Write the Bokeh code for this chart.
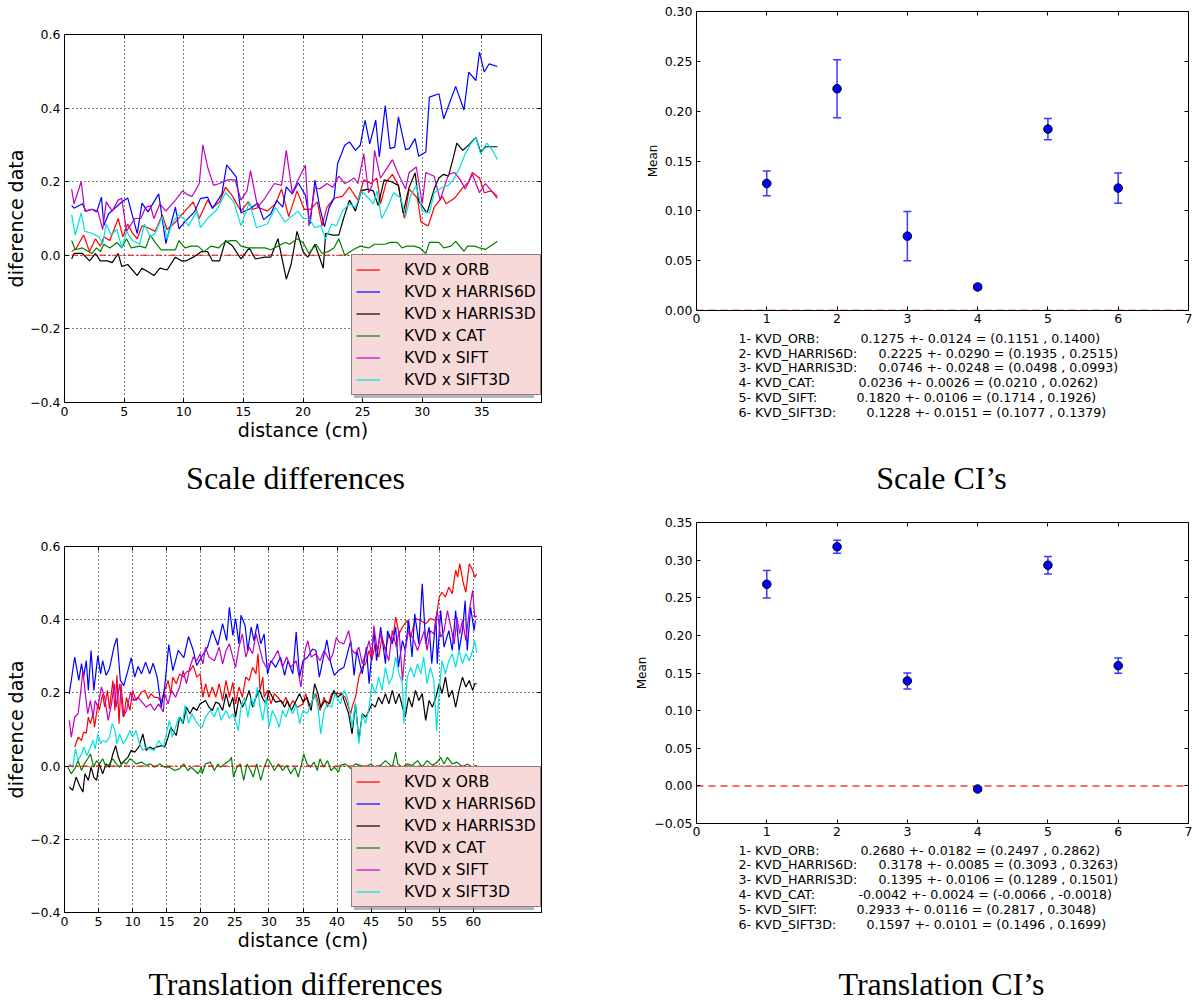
from bokeh.plotting import figure
from bokeh.layouts import row, column
from bokeh.models import (Range1d, FixedTicker, LinearAxis, ColumnDataSource,
                          Whisker, TeeHead, Span, Legend, LegendItem)
from bokeh.core.properties import value
from bokeh.embed import file_html
from bokeh.resources import INLINE

SANS = "DejaVu Sans"
SERIF = "Liberation Serif"

# ---------------------------------------------------------------- data
series_names = ["KVD x ORB", "KVD x HARRIS6D", "KVD x HARRIS3D",
                "KVD x CAT", "KVD x SIFT", "KVD x SIFT3D"]
series_colors = ["#ff0000", "#0000ff", "#000000", "#008000", "#bf00bf", "#00e0e0"]

# scale differences (distance in cm, difference)
scale_orb = [(0.6, 0.01), (1.0, 0.02), (1.6, 0.055), (2.1, 0.01), (2.6, 0.045), (3.0, 0.025),
             (3.3, 0.05), (3.8, 0.04), (4.5, 0.10), (4.9, 0.05), (5.3, 0.085), (5.7, 0.06),
             (6.1, 0.045), (6.5, 0.08), (7.0, 0.075), (7.6, 0.065), (8.2, 0.11), (8.6, 0.07),
             (9.3, 0.09), (10.1, 0.12), (10.8, 0.145), (11.3, 0.10), (12.0, 0.15), (12.4, 0.13),
             (13.0, 0.145), (13.5, 0.185), (14.0, 0.165), (14.8, 0.12), (15.4, 0.145),
             (15.8, 0.125), (16.3, 0.13), (17.0, 0.12), (17.7, 0.14), (18.2, 0.18), (18.8, 0.105),
             (19.5, 0.175), (20.1, 0.125), (20.6, 0.125), (21.2, 0.145), (21.6, 0.08), (22.0, 0.13),
             (22.6, 0.155), (23.3, 0.16), (23.9, 0.185), (24.6, 0.15), (25.1, 0.205), (25.7, 0.195),
             (26.2, 0.21), (26.5, 0.14), (27.0, 0.20), (27.5, 0.22), (28.0, 0.19), (28.5, 0.10),
             (28.9, 0.18), (29.6, 0.155), (29.9, 0.09), (30.5, 0.08), (31.0, 0.13), (31.7, 0.16),
             (32.0, 0.14), (32.7, 0.155), (33.3, 0.18), (33.9, 0.20), (34.2, 0.225), (34.8, 0.21),
             (35.2, 0.17), (35.8, 0.175), (36.3, 0.155)]
scale_harris6d = [(0.6, 0.135), (0.8, 0.128), (1.5, 0.14), (1.8, 0.12), (2.3, 0.125), (2.7, 0.118),
                  (3.1, 0.158), (3.3, 0.081), (3.7, 0.113), (4.8, 0.145), (5.3, 0.156), (6.1, 0.059),
                  (6.5, 0.142), (7.0, 0.118), (7.9, 0.167), (8.5, 0.032), (9.3, 0.131), (9.6, 0.072),
                  (10.2, 0.095), (10.9, 0.118), (11.4, 0.154), (12.0, 0.158), (12.4, 0.127),
                  (13.2, 0.167), (13.6, 0.246), (14.4, 0.213), (14.8, 0.115), (15.6, 0.127),
                  (16.2, 0.142), (16.7, 0.097), (17.3, 0.113), (17.8, 0.149), (18.3, 0.131),
                  (18.6, 0.186), (19.1, 0.167), (19.6, 0.197), (20.2, 0.163), (20.6, 0.086),
                  (21.0, 0.204), (21.4, 0.131), (21.8, 0.077), (22.2, 0.131), (22.6, 0.154),
                  (22.9, 0.249), (23.5, 0.299), (23.9, 0.308), (24.4, 0.285), (24.8, 0.299),
                  (25.2, 0.367), (25.6, 0.303), (26.1, 0.367), (26.4, 0.267), (26.9, 0.407),
                  (27.3, 0.29), (27.7, 0.294), (28.0, 0.376), (28.6, 0.287), (28.9, 0.29),
                  (29.4, 0.317), (29.7, 0.269), (30.3, 0.281), (30.6, 0.43), (31.4, 0.439),
                  (31.8, 0.371), (32.8, 0.459), (33.5, 0.395), (33.9, 0.498), (34.5, 0.475),
                  (34.8, 0.552), (35.2, 0.498), (35.6, 0.52), (36.3, 0.513)]
scale_harris3d = [(0.6, -0.01), (0.8, 0.005), (1.5, 0.005), (2.1, -0.015), (2.6, 0.005), (3.0, -0.015),
                  (3.6, -0.015), (4.0, -0.02), (4.5, 0.005), (4.8, -0.03), (5.3, -0.025), (6.1, -0.055),
                  (6.5, -0.035), (7.0, -0.045), (7.5, -0.055), (8.0, -0.035), (8.6, -0.04),
                  (9.3, -0.005), (9.8, -0.015), (10.2, -0.015), (10.8, -0.005), (11.5, 0.01),
                  (12.0, 0.01), (12.4, -0.015), (13.0, -0.015), (13.5, 0.04), (14.1, 0.025),
                  (14.8, -0.01), (15.5, 0.02), (16.0, -0.01), (16.8, -0.005), (17.3, -0.005),
                  (17.9, 0.045), (18.6, -0.065), (19.0, -0.025), (19.5, 0.065), (20.0, 0.01),
                  (20.4, -0.005), (21.0, 0.03), (21.7, -0.035), (21.9, 0.06), (22.5, 0.055),
                  (23.0, 0.055), (23.4, 0.10), (23.9, 0.15), (24.4, 0.12), (24.9, 0.175),
                  (25.4, 0.18), (25.9, 0.175), (26.3, 0.135), (26.8, 0.205), (27.4, 0.20),
                  (28.0, 0.19), (28.4, 0.115), (28.9, 0.185), (29.4, 0.224), (29.7, 0.147),
                  (30.4, 0.115), (31.0, 0.18), (31.4, 0.21), (31.8, 0.22), (32.2, 0.215),
                  (32.6, 0.265), (32.9, 0.305), (33.4, 0.285), (33.9, 0.30), (34.5, 0.32),
                  (34.9, 0.28), (35.3, 0.295), (36.3, 0.295)]
scale_cat = [(0.6, 0.04), (0.9, 0.015), (1.5, 0.02), (2.3, 0.005), (2.7, 0.02), (3.0, 0.01),
             (3.3, 0.03), (3.8, 0.02), (4.4, 0.035), (4.8, 0.02), (5.2, 0.045), (5.6, 0.02),
             (6.3, 0.025), (6.8, 0.02), (7.2, 0.055), (7.6, 0.035), (8.1, 0.015), (8.6, 0.015),
             (9.3, 0.015), (9.6, 0.04), (10.1, 0.02), (10.6, 0.025), (11.2, 0.025), (11.7, 0.01),
             (12.3, 0.025), (12.9, 0.02), (13.4, 0.035), (13.9, 0.04), (14.4, 0.04), (14.8, 0.025),
             (15.4, 0.02), (16.2, 0.02), (16.8, 0.02), (17.3, 0.015), (17.9, 0.025), (18.5, 0.035),
             (18.9, 0.03), (19.5, 0.045), (20.0, 0.035), (20.5, 0.005), (21.1, 0.03), (21.6, 0.005),
             (22.1, 0.01), (22.6, 0.02), (23.0, 0.045), (23.5, 0.0), (24.2, 0.015), (24.8, 0.025),
             (25.5, 0.02), (26.0, 0.03), (26.5, 0.03), (26.9, 0.03), (27.3, 0.035), (27.9, 0.035),
             (28.3, 0.02), (28.7, 0.025), (29.3, 0.025), (29.8, 0.02), (30.3, 0.005), (30.6, 0.035),
             (31.4, 0.035), (31.8, 0.02), (32.4, 0.025), (32.8, 0.038), (33.5, 0.011), (33.8, 0.025),
             (34.4, 0.025), (34.8, 0.02), (35.3, 0.016), (36.3, 0.038)]
scale_sift = [(0.6, 0.18), (0.8, 0.14), (1.4, 0.20), (1.7, 0.12), (2.3, 0.125), (2.8, 0.12),
              (3.2, 0.07), (3.5, 0.145), (4.0, 0.12), (4.5, 0.15), (4.8, 0.155), (5.2, 0.065),
              (5.9, 0.10), (6.4, 0.10), (6.8, 0.13), (7.2, 0.135), (7.5, 0.10), (8.0, 0.14),
              (8.5, 0.12), (9.3, 0.15), (9.9, 0.175), (10.3, 0.165), (10.7, 0.16), (11.3, 0.195),
              (11.6, 0.30), (12.0, 0.24), (12.5, 0.19), (13.0, 0.195), (13.7, 0.205), (14.3, 0.205),
              (14.8, 0.15), (15.3, 0.175), (15.6, 0.23), (16.2, 0.13), (16.8, 0.155), (17.6, 0.195),
              (18.2, 0.19), (18.6, 0.285), (19.1, 0.17), (19.6, 0.205), (20.2, 0.245), (20.5, 0.08),
              (21.0, 0.185), (21.4, 0.18), (22.0, 0.195), (22.5, 0.185), (23.0, 0.215), (23.5, 0.195),
              (23.8, 0.20), (24.3, 0.21), (24.6, 0.195), (25.1, 0.275), (25.5, 0.17), (25.8, 0.19),
              (26.0, 0.285), (26.5, 0.21), (27.0, 0.235), (27.5, 0.26), (28.0, 0.22), (28.6, 0.18),
              (28.9, 0.225), (29.5, 0.24), (30.0, 0.14), (30.3, 0.225), (31.0, 0.215), (31.5, 0.15),
              (32.2, 0.22), (32.7, 0.225), (33.2, 0.205), (33.6, 0.18), (34.2, 0.22), (34.8, 0.17),
              (35.3, 0.195), (35.8, 0.175), (36.3, 0.16)]
scale_sift3d = [(0.6, 0.11), (0.9, 0.055), (1.4, 0.115), (1.7, 0.065), (2.3, 0.06), (2.9, 0.05),
                (3.2, 0.03), (3.5, 0.085), (3.9, 0.055), (4.4, 0.07), (4.8, 0.02), (5.2, 0.065),
                (5.7, 0.04), (6.3, 0.03), (6.7, 0.085), (7.2, 0.05), (7.6, 0.06), (8.2, 0.105),
                (8.6, 0.045), (9.0, 0.085), (9.5, 0.11), (10.0, 0.10), (10.4, 0.08), (11.1, 0.12),
                (11.4, 0.075), (12.0, 0.10), (12.8, 0.125), (13.5, 0.17), (14.2, 0.145), (14.8, 0.08),
                (15.5, 0.145), (16.1, 0.075), (17.0, 0.085), (17.7, 0.13), (18.5, 0.09), (19.0, 0.105),
                (19.6, 0.12), (20.0, 0.10), (20.5, 0.10), (21.0, 0.075), (21.5, 0.08), (21.9, 0.045),
                (22.4, 0.085), (22.8, 0.08), (23.3, 0.12), (23.9, 0.14), (24.4, 0.13), (24.9, 0.175),
                (25.5, 0.155), (25.9, 0.14), (26.2, 0.175), (26.6, 0.10), (27.0, 0.125), (27.6, 0.17),
                (28.2, 0.155), (28.6, 0.105), (29.0, 0.16), (29.5, 0.19), (30.0, 0.12), (30.6, 0.115),
                (31.0, 0.17), (31.7, 0.185), (32.2, 0.19), (32.6, 0.205), (33.1, 0.235), (33.6, 0.275),
                (34.0, 0.30), (34.5, 0.32), (34.9, 0.275), (35.4, 0.305), (35.9, 0.285), (36.3, 0.26)]

# translation differences (distance in cm, difference)
trans_orb = [(1.5, 0.052), (2.0, 0.079), (2.5, 0.07), (2.8, 0.093), (3.2, 0.09), (3.5, 0.134),
             (3.8, 0.116), (4.2, 0.143), (4.4, 0.106), (4.9, 0.17), (5.1, 0.152), (5.6, 0.197),
             (5.9, 0.161), (6.3, 0.207), (6.6, 0.156), (7.1, 0.234), (7.4, 0.152), (7.7, 0.248),
             (8.0, 0.116), (8.3, 0.225), (8.7, 0.134), (9.1, 0.188), (9.6, 0.152), (10.0, 0.207),
             (10.5, 0.179), (11.3, 0.202), (11.8, 0.207), (12.3, 0.184), (12.7, 0.198), (13.2, 0.188),
             (13.7, 0.188), (14.2, 0.175), (14.7, 0.207), (15.2, 0.234), (15.6, 0.198), (15.9, 0.243),
             (16.4, 0.225), (16.9, 0.252), (17.4, 0.243), (17.9, 0.257), (18.4, 0.261), (18.9, 0.275),
             (19.4, 0.243), (19.9, 0.252), (20.3, 0.188), (20.7, 0.225), (21.2, 0.188), (21.7, 0.216),
             (22.2, 0.188), (22.7, 0.225), (23.2, 0.179), (23.7, 0.234), (24.2, 0.188), (24.7, 0.229),
             (25.1, 0.17), (25.6, 0.216), (26.1, 0.188), (26.6, 0.243), (27.1, 0.234), (27.6, 0.27),
             (28.1, 0.252), (28.4, 0.307), (28.7, 0.207), (29.1, 0.243), (29.3, 0.188), (29.8, 0.207),
             (30.3, 0.17), (30.8, 0.198), (31.5, 0.184), (32.0, 0.17), (32.5, 0.188), (33.0, 0.161),
             (33.5, 0.179), (34.2, 0.161), (35.0, 0.17), (35.4, 0.198), (35.9, 0.161), (36.4, 0.179),
             (36.9, 0.198), (37.5, 0.152), (38.1, 0.188), (38.6, 0.161), (39.2, 0.198), (39.9, 0.198),
             (40.5, 0.198), (41.2, 0.188), (42.0, 0.143), (42.2, 0.161), (42.7, 0.188), (43.2, 0.243),
             (43.7, 0.27), (44.2, 0.28), (44.7, 0.316), (45.1, 0.288), (45.6, 0.334), (46.1, 0.298),
             (46.6, 0.352), (47.1, 0.316), (47.6, 0.361), (48.1, 0.334), (48.6, 0.407), (49.1, 0.361),
             (49.6, 0.38), (50.3, 0.398), (50.8, 0.352), (51.5, 0.403), (52.3, 0.398), (53.0, 0.389),
             (53.7, 0.403), (54.5, 0.398), (55.0, 0.462), (55.4, 0.475), (55.9, 0.462), (56.4, 0.489),
             (56.9, 0.471), (57.4, 0.535), (57.7, 0.516), (58.0, 0.553), (58.5, 0.502), (58.9, 0.475),
             (59.4, 0.553), (59.9, 0.535), (60.2, 0.516), (60.5, 0.525)]
trans_harris6d = [(0.7, 0.197), (1.5, 0.298), (2.1, 0.234), (2.5, 0.28), (2.8, 0.243), (3.2, 0.288),
                  (3.5, 0.207), (3.9, 0.316), (4.3, 0.207), (4.9, 0.302), (5.3, 0.252), (5.6, 0.288),
                  (6.1, 0.248), (6.6, 0.266), (7.3, 0.329), (7.7, 0.35), (8.2, 0.234), (8.7, 0.22),
                  (9.3, 0.261), (9.8, 0.296), (10.3, 0.243), (10.8, 0.272), (11.3, 0.252), (11.9, 0.284),
                  (12.5, 0.252), (13.0, 0.281), (13.6, 0.243), (14.2, 0.161), (14.7, 0.216), (15.3, 0.332),
                  (15.9, 0.261), (16.7, 0.316), (17.5, 0.296), (18.2, 0.354), (18.9, 0.316), (19.4, 0.275),
                  (20.1, 0.298), (21.0, 0.325), (21.7, 0.371), (22.5, 0.33), (23.2, 0.389), (23.8, 0.343),
                  (24.2, 0.434), (24.7, 0.357), (25.1, 0.403), (25.6, 0.334), (25.9, 0.412), (26.5, 0.384),
                  (26.9, 0.316), (27.4, 0.38), (27.8, 0.343), (28.3, 0.389), (28.8, 0.334), (29.3, 0.361),
                  (29.8, 0.252), (30.3, 0.288), (31.0, 0.27), (31.7, 0.298), (32.3, 0.248), (32.8, 0.288),
                  (33.5, 0.252), (34.0, 0.366), (34.5, 0.243), (35.0, 0.288), (35.7, 0.298), (36.4, 0.32),
                  (36.9, 0.316), (37.4, 0.243), (38.0, 0.298), (38.5, 0.345), (39.1, 0.279), (39.6, 0.248),
                  (40.2, 0.261), (41.0, 0.27), (42.0, 0.343), (42.5, 0.248), (42.9, 0.316), (43.7, 0.252),
                  (44.3, 0.325), (44.7, 0.225), (45.4, 0.37), (45.8, 0.288), (46.4, 0.38), (47.1, 0.28),
                  (47.4, 0.37), (48.1, 0.334), (48.6, 0.38), (49.0, 0.27), (49.6, 0.343), (50.0, 0.316),
                  (50.5, 0.398), (51.0, 0.298), (51.4, 0.416), (52.0, 0.334), (52.5, 0.498), (53.0, 0.334),
                  (53.5, 0.38), (53.9, 0.28), (54.5, 0.407), (54.7, 0.28), (55.2, 0.425), (55.7, 0.325),
                  (56.4, 0.37), (56.9, 0.316), (57.4, 0.425), (57.9, 0.316), (58.4, 0.37), (58.8, 0.452),
                  (59.1, 0.316), (59.6, 0.434), (60.1, 0.37), (60.3, 0.398)]
trans_harris3d = [(0.7, -0.057), (1.2, -0.066), (1.7, -0.03), (2.2, -0.053), (2.7, -0.071), (3.0, -0.021),
                  (3.5, -0.039), (3.9, -0.003), (4.3, -0.03), (4.7, -0.039), (5.1, 0.006), (5.6, -0.021),
                  (6.1, 0.006), (6.6, -0.003), (7.1, 0.033), (7.5, 0.056), (7.9, 0.024), (8.3, 0.006),
                  (8.8, 0.015), (9.3, 0.024), (9.8, 0.043), (10.3, 0.038), (10.9, 0.052), (11.5, 0.088),
                  (12.0, 0.043), (12.5, 0.052), (13.0, 0.047), (13.5, 0.052), (14.2, 0.056), (14.7, 0.052),
                  (15.2, 0.079), (15.6, 0.106), (15.9, 0.097), (16.4, 0.084), (16.9, 0.134), (17.4, 0.116),
                  (17.9, 0.161), (18.4, 0.143), (18.9, 0.161), (19.4, 0.152), (19.9, 0.17), (20.7, 0.179),
                  (21.2, 0.161), (21.7, 0.152), (22.2, 0.175), (22.7, 0.17), (23.2, 0.152), (23.7, 0.198),
                  (24.2, 0.161), (24.7, 0.188), (25.1, 0.134), (25.6, 0.188), (26.1, 0.161), (26.6, 0.179),
                  (27.1, 0.207), (27.6, 0.161), (28.1, 0.188), (28.6, 0.207), (29.1, 0.184), (29.6, 0.17),
                  (30.0, 0.207), (30.5, 0.188), (31.0, 0.175), (31.8, 0.179), (32.3, 0.161), (32.7, 0.179),
                  (33.3, 0.152), (34.0, 0.179), (34.5, 0.198), (35.0, 0.175), (35.6, 0.188), (36.2, 0.152),
                  (36.7, 0.225), (37.2, 0.198), (37.6, 0.161), (38.2, 0.179), (38.9, 0.17), (39.5, 0.207),
                  (40.1, 0.188), (40.7, 0.198), (41.2, 0.17), (41.7, 0.143), (42.2, 0.088), (42.7, 0.17),
                  (43.2, 0.07), (43.7, 0.143), (44.2, 0.134), (44.7, 0.152), (45.1, 0.17), (45.6, 0.161),
                  (46.1, 0.188), (46.6, 0.17), (47.1, 0.198), (47.6, 0.17), (48.1, 0.207), (48.6, 0.17),
                  (49.1, 0.198), (49.6, 0.161), (50.0, 0.134), (50.5, 0.188), (51.0, 0.161), (51.5, 0.207),
                  (52.0, 0.179), (52.5, 0.198), (53.0, 0.125), (53.5, 0.179), (54.0, 0.161), (54.5, 0.188),
                  (55.0, 0.225), (55.4, 0.198), (55.9, 0.243), (56.4, 0.188), (56.9, 0.207), (57.4, 0.161),
                  (57.9, 0.207), (58.4, 0.243), (58.9, 0.216), (59.4, 0.234), (59.9, 0.207), (60.2, 0.225),
                  (60.5, 0.225)]
trans_cat = [(0.5, -0.003), (1.0, -0.021), (1.5, -0.007), (2.0, 0.015), (2.5, -0.012), (2.9, 0.006),
             (3.4, 0.02), (3.8, 0.033), (4.3, -0.003), (4.7, 0.015), (5.1, 0.006), (5.6, 0.02),
             (6.1, -0.003), (6.6, 0.006), (7.1, 0.02), (7.6, 0.006), (8.1, -0.003), (8.6, 0.011),
             (9.1, 0.006), (9.6, 0.02), (10.0, 0.015), (10.5, 0.006), (11.3, 0.011), (12.0, 0.002),
             (12.6, 0.006), (13.2, -0.003), (14.0, 0.006), (14.7, -0.003), (15.4, -0.003), (16.2, -0.012),
             (16.9, -0.007), (17.5, 0.006), (18.1, -0.012), (18.6, -0.003), (19.1, -0.012), (19.6, -0.021),
             (20.1, -0.003), (20.2, -0.021), (20.7, 0.006), (21.4, 0.011), (22.0, -0.012), (22.5, 0.006),
             (22.9, -0.003), (23.5, 0.006), (24.2, 0.015), (24.5, 0.024), (24.8, -0.03), (25.3, -0.003),
             (25.8, 0.006), (26.3, -0.039), (26.8, 0.006), (27.3, -0.012), (27.7, -0.03), (28.2, 0.006),
             (28.8, -0.039), (29.3, -0.003), (29.8, 0.02), (30.3, 0.006), (30.8, -0.012), (31.4, 0.006),
             (32.0, -0.012), (32.6, 0.002), (33.2, -0.021), (33.8, -0.003), (34.3, -0.03), (34.8, 0.006),
             (35.1, 0.033), (35.6, 0.006), (36.1, -0.003), (36.6, 0.011), (37.1, -0.012), (37.5, 0.02),
             (38.0, -0.003), (38.6, 0.015), (39.1, -0.012), (39.6, -0.003), (40.2, -0.016), (40.5, 0.002),
             (41.2, 0.006), (42.0, -0.007), (42.7, 0.006), (43.4, 0.002), (44.2, -0.003), (44.9, 0.006),
             (45.6, -0.003), (46.4, 0.002), (47.1, 0.015), (47.6, 0.006), (48.1, -0.003), (48.6, 0.038),
             (48.9, 0.006), (49.6, -0.003), (50.3, 0.006), (51.0, 0.002), (51.8, 0.015), (52.5, -0.003),
             (53.2, 0.015), (54.0, 0.002), (54.7, 0.011), (55.2, 0.024), (55.7, 0.006), (56.2, 0.024),
             (56.9, 0.006), (57.6, 0.011), (58.4, -0.003), (59.1, 0.006), (59.9, -0.003), (60.5, 0.002)]
trans_sift = [(0.7, 0.125), (1.0, 0.079), (1.5, 0.134), (2.0, 0.143), (2.4, 0.207), (2.7, 0.261),
              (3.0, 0.207), (3.4, 0.143), (3.8, 0.179), (4.2, 0.134), (4.5, 0.179), (4.9, 0.161),
              (5.4, 0.216), (5.9, 0.188), (6.4, 0.125), (6.9, 0.17), (7.3, 0.225), (7.6, 0.161),
              (8.1, 0.225), (8.6, 0.134), (9.1, 0.152), (9.7, 0.202), (10.2, 0.179), (10.8, 0.188),
              (11.4, 0.175), (12.0, 0.161), (12.6, 0.17), (13.2, 0.152), (13.8, 0.17), (14.5, 0.148),
              (14.7, 0.198), (15.2, 0.17), (15.7, 0.207), (16.3, 0.188), (16.9, 0.216), (17.4, 0.261),
              (17.9, 0.225), (18.4, 0.27), (18.9, 0.298), (19.4, 0.288), (19.9, 0.307), (20.3, 0.279),
              (20.7, 0.325), (21.2, 0.298), (22.0, 0.288), (22.7, 0.325), (23.2, 0.279), (23.7, 0.316),
              (24.2, 0.334), (24.7, 0.298), (25.1, 0.27), (25.6, 0.325), (26.1, 0.361), (26.6, 0.298),
              (27.1, 0.325), (27.6, 0.307), (28.1, 0.361), (28.6, 0.325), (29.1, 0.288), (29.6, 0.27),
              (30.0, 0.275), (30.8, 0.298), (31.3, 0.316), (32.0, 0.27), (32.6, 0.298), (33.2, 0.27),
              (34.0, 0.288), (34.7, 0.216), (35.3, 0.316), (35.7, 0.343), (36.2, 0.298), (36.9, 0.307),
              (37.5, 0.288), (38.1, 0.316), (38.9, 0.288), (39.4, 0.307), (39.9, 0.352), (40.3, 0.339),
              (41.0, 0.334), (41.7, 0.37), (42.2, 0.316), (42.7, 0.307), (43.2, 0.325), (43.7, 0.28),
              (44.2, 0.307), (44.7, 0.343), (45.1, 0.298), (45.4, 0.384), (45.9, 0.316), (46.4, 0.361),
              (47.1, 0.316), (47.6, 0.288), (48.1, 0.37), (48.7, 0.325), (49.1, 0.37), (49.6, 0.234),
              (50.0, 0.316), (50.5, 0.37), (51.3, 0.343), (51.8, 0.316), (52.3, 0.343), (52.8, 0.37),
              (53.2, 0.316), (53.7, 0.37), (54.2, 0.361), (54.7, 0.425), (55.2, 0.352), (55.7, 0.37),
              (56.2, 0.425), (56.7, 0.38), (57.2, 0.334), (57.6, 0.407), (58.0, 0.361), (58.4, 0.398),
              (58.9, 0.343), (59.4, 0.425), (59.9, 0.48), (60.2, 0.407), (60.5, 0.41)]
trans_sift3d = [(0.7, 0.006), (1.2, -0.003), (1.6, 0.047), (2.0, 0.015), (2.5, 0.033), (2.8, 0.052),
                (3.3, 0.029), (3.8, 0.052), (4.2, 0.07), (4.5, 0.047), (4.9, 0.088), (5.3, 0.061),
                (5.6, 0.07), (6.1, 0.066), (6.6, 0.079), (7.0, 0.116), (7.4, 0.097), (7.7, 0.061),
                (8.1, 0.088), (8.6, 0.061), (9.1, 0.075), (9.6, 0.097), (10.0, 0.079), (10.5, 0.097),
                (11.0, 0.061), (11.5, 0.043), (12.0, 0.052), (12.6, 0.047), (13.2, 0.043), (13.8, 0.07),
                (14.5, 0.052), (15.0, 0.093), (15.4, 0.125), (15.8, 0.079), (16.3, 0.106), (16.8, 0.134),
                (17.3, 0.116), (17.7, 0.166), (18.2, 0.116), (18.7, 0.143), (19.2, 0.125), (19.7, 0.111),
                (20.2, 0.106), (20.7, 0.134), (21.4, 0.152), (22.0, 0.134), (22.5, 0.161), (23.0, 0.125),
                (23.7, 0.152), (24.2, 0.13), (24.7, 0.143), (25.1, 0.125), (25.5, 0.097), (25.9, 0.161),
                (26.4, 0.188), (26.9, 0.134), (27.4, 0.188), (27.8, 0.161), (28.3, 0.216), (28.7, 0.161),
                (29.1, 0.125), (29.6, 0.188), (30.0, 0.106), (30.5, 0.152), (31.0, 0.134), (31.5, 0.106),
                (32.0, 0.152), (32.5, 0.134), (33.0, 0.161), (33.5, 0.143), (34.0, 0.17), (34.5, 0.116),
                (35.0, 0.152), (35.6, 0.143), (36.2, 0.17), (36.7, 0.198), (37.2, 0.161), (37.6, 0.088),
                (38.1, 0.152), (38.6, 0.17), (39.2, 0.161), (39.7, 0.198), (40.2, 0.179), (40.5, 0.17),
                (41.0, 0.207), (41.5, 0.188), (42.0, 0.134), (42.2, 0.106), (42.7, 0.17), (43.2, 0.061),
                (43.7, 0.143), (44.2, 0.116), (44.7, 0.161), (45.1, 0.225), (45.6, 0.198), (46.1, 0.243),
                (46.6, 0.207), (47.1, 0.27), (47.6, 0.225), (48.1, 0.243), (48.6, 0.298), (49.1, 0.252),
                (49.6, 0.225), (49.8, 0.116), (50.3, 0.243), (50.8, 0.27), (51.3, 0.243), (51.8, 0.28),
                (52.3, 0.252), (52.7, 0.298), (53.2, 0.225), (53.7, 0.27), (54.2, 0.234), (54.6, 0.097),
                (55.0, 0.207), (55.4, 0.288), (55.9, 0.252), (56.4, 0.288), (56.9, 0.307), (57.4, 0.27),
                (57.9, 0.316), (58.4, 0.28), (58.9, 0.307), (59.4, 0.288), (59.9, 0.316), (60.2, 0.343),
                (60.5, 0.31)]

scale_series = [scale_orb, scale_harris6d, scale_harris3d, scale_cat, scale_sift, scale_sift3d]
trans_series = [trans_orb, trans_harris6d, trans_harris3d, trans_cat, trans_sift, trans_sift3d]

diff_yticks = [-0.4, -0.2, 0.0, 0.2, 0.4, 0.6]
diff_ytick_labels = ["\u22120.4", "\u22120.2", "0.0", "0.2", "0.4", "0.6"]
scale_xticks = [0, 5, 10, 15, 20, 25, 30, 35]
trans_xticks = [0, 5, 10, 15, 20, 25, 30, 35, 40, 45, 50, 55, 60]

# confidence intervals of the mean difference per detector pair
ci_index = [1, 2, 3, 4, 5, 6]
ci_names = ["KVD_ORB", "KVD_HARRIS6D", "KVD_HARRIS3D", "KVD_CAT", "KVD_SIFT", "KVD_SIFT3D"]
scale_means = [0.1275, 0.2225, 0.0746, 0.0236, 0.1820, 0.1228]
scale_errs = [0.0124, 0.0290, 0.0248, 0.0026, 0.0106, 0.0151]
scale_lo = [0.1151, 0.1935, 0.0498, 0.0210, 0.1714, 0.1077]
scale_hi = [0.1400, 0.2515, 0.0993, 0.0262, 0.1926, 0.1379]
trans_means = [0.2680, 0.3178, 0.1395, -0.0042, 0.2933, 0.1597]
trans_errs = [0.0182, 0.0085, 0.0106, 0.0024, 0.0116, 0.0101]
trans_lo = [0.2497, 0.3093, 0.1289, -0.0066, 0.2817, 0.1496]
trans_hi = [0.2862, 0.3263, 0.1501, -0.0018, 0.3048, 0.1699]

ci_xticks = [0, 1, 2, 3, 4, 5, 6, 7]
scale_ci_yticks = [0.00, 0.05, 0.10, 0.15, 0.20, 0.25, 0.30]
scale_ci_ytick_labels = ["0.00", "0.05", "0.10", "0.15", "0.20", "0.25", "0.30"]
trans_ci_yticks = [-0.05, 0.00, 0.05, 0.10, 0.15, 0.20, 0.25, 0.30, 0.35]
trans_ci_ytick_labels = ["\u22120.05", "0.00", "0.05", "0.10", "0.15", "0.20", "0.25", "0.30", "0.35"]

captions = ["Scale differences", "Scale CI\u2019s", "Translation differences", "Translation CI\u2019s"]

# ------------------------------------------------------------ layout
LEFT_W = 600
RIGHT_W = 597
VALUE_COL = [122, 140, 140, 120, 118, 128]   # px offset of the value column per note line


def style_axis(ax, size="12.5px"):
    ax.major_label_text_font = SANS
    ax.major_label_text_font_size = size
    ax.major_label_text_color = "black"
    ax.major_tick_in = 4
    ax.major_tick_out = 0
    ax.major_tick_line_color = "black"
    ax.minor_tick_line_color = None
    ax.axis_line_color = "black"
    ax.major_label_standoff = 4
    ax.axis_label_text_font = SANS
    ax.axis_label_text_font_style = "normal"
    ax.axis_label_text_color = "black"


def box_ticks(p, xticks, yticks):
    for ticks, side in ((xticks, "above"), (yticks, "right")):
        ax = LinearAxis(ticker=FixedTicker(ticks=ticks))
        ax.major_tick_in = 4
        ax.major_tick_out = 0
        ax.minor_tick_line_color = None
        ax.axis_line_color = None
        ax.major_label_text_font_size = "0px"
        ax.major_label_text_color = None
        ax.major_label_standoff = 0
        p.add_layout(ax, side)


def legend_props(lg):
    lg.label_text_font = SANS
    lg.label_text_font_size = "15.5px"
    lg.glyph_width = 24
    lg.glyph_height = 21
    lg.label_height = 21
    lg.label_width = 132
    lg.label_standoff = 24
    lg.spacing = 1
    lg.padding = 4
    lg.margin = 0


def diff_plot(series, x_end, xticks, frame_h, top, bottom, legend_loc):
    p = figure(frame_width=477, frame_height=frame_h, frame_align=False,
               min_border_left=64, min_border_right=LEFT_W - 64 - 477,
               min_border_top=top, min_border_bottom=bottom,
               x_range=Range1d(0, x_end), y_range=Range1d(-0.4, 0.6),
               x_axis_label="distance (cm)", y_axis_label="diference data",
               output_backend="svg", toolbar_location=None)
    p.outline_line_color = "black"
    p.outline_line_alpha = 1
    p.background_fill_color = "white"
    p.border_fill_color = "white"
    p.xaxis.ticker = FixedTicker(ticks=xticks)
    p.yaxis.ticker = FixedTicker(ticks=diff_yticks)
    p.yaxis.major_label_overrides = dict(zip(diff_yticks, diff_ytick_labels))
    for ax in (p.xaxis[0], p.yaxis[0]):
        style_axis(ax)
        ax.axis_label_text_font_size = "19px"
        ax.axis_label_standoff = 0
    p.xgrid.ticker = FixedTicker(ticks=xticks)
    p.ygrid.ticker = FixedTicker(ticks=diff_yticks)
    p.grid.grid_line_color = "black"
    p.grid.grid_line_dash = "1 3"
    p.grid.grid_line_width = 1
    box_ticks(p, xticks, diff_yticks)

    renderers = []
    for pts, color in zip(series, series_colors):
        xs = [a for a, _ in pts]
        ys = [b for _, b in pts]
        renderers.append(p.line(xs, ys, line_color=color, line_width=1.2))

    x0 = min(s[0][0] for s in series)
    x1 = max(s[-1][0] for s in series)
    p.line([x0, x1], [0, 0], line_color="#ff0000", line_alpha=0.7,
           line_width=1.6, line_dash="6 3 2 3")

    # drop shadow behind the legend box
    ghost = p.line([], [], line_alpha=0)
    shadow = Legend(items=[LegendItem(label="", renderers=[ghost]) for _ in series_names],
                    location=(legend_loc[0] + 3, legend_loc[1] - 3))
    legend_props(shadow)
    shadow.background_fill_color = "#7a7a7a"
    shadow.background_fill_alpha = 0.55
    shadow.border_line_color = None
    main = Legend(items=[LegendItem(label=n, renderers=[r]) for n, r in zip(series_names, renderers)],
                  location=legend_loc)
    legend_props(main)
    main.background_fill_color = "#f8d9d9"
    main.background_fill_alpha = 1
    main.border_line_color = "#222222"
    main.border_line_width = 1
    main.label_text_color = "black"
    p.add_layout(shadow)
    p.add_layout(main)
    return p


def ci_plot(means, lo, hi, y0, y1, yticks, ylabels, frame_h, top, bottom):
    p = figure(frame_width=492, frame_height=frame_h, frame_align=False,
               x_range=Range1d(0, 7), y_range=Range1d(y0, y1),
               y_axis_label="Mean", output_backend="svg", toolbar_location=None,
               min_border_left=96, min_border_right=RIGHT_W - 96 - 492,
               min_border_top=top, min_border_bottom=bottom)
    p.outline_line_color = "black"
    p.grid.visible = False
    p.xaxis.ticker = FixedTicker(ticks=ci_xticks)
    p.yaxis.ticker = FixedTicker(ticks=yticks)
    p.yaxis.major_label_overrides = dict(zip(yticks, ylabels))
    for ax in (p.xaxis[0], p.yaxis[0]):
        style_axis(ax)
        ax.axis_label_text_font_size = "12px"
        ax.axis_label_standoff = 2
    p.xaxis.major_label_standoff = 3
    box_ticks(p, ci_xticks, yticks)

    p.add_layout(Span(location=0, dimension="width", line_color="#ff4d4d", line_alpha=0.85,
                      line_width=2, line_dash="7 5", level="underlay"))
    src = ColumnDataSource(dict(x=ci_index, mean=means, lo=lo, hi=hi))
    err = "#3a3aff"
    p.add_layout(Whisker(source=src, base="x", lower="lo", upper="hi",
                         line_color=err, line_width=1.5,
                         lower_head=TeeHead(size=8, line_color=err, line_width=1.5),
                         upper_head=TeeHead(size=8, line_color=err, line_width=1.5)))
    p.scatter("x", "mean", source=src, size=8.5, marker="circle",
              fill_color="#0000ff", line_color="black", line_width=1)
    return p


def text_panel(width, height):
    t = figure(width=width, height=height, frame_align=False,
               x_range=Range1d(0, width), y_range=Range1d(height, 0),
               x_axis_type=None, y_axis_type=None,
               output_backend="svg", toolbar_location=None, min_border=0)
    t.grid.visible = False
    t.outline_line_color = None
    return t


def caption_panel(width, height, caption, cy, cx):
    t = text_panel(width, height)
    t.text(x=[cx], y=[cy], text=[caption], text_font=value(SERIF), text_font_size="32px",
           text_align="center", text_baseline="middle", text_color="black")
    return t


def notes_panel(height, means, errs, lo, hi, first_y, caption, cy):
    t = caption_panel(RIGHT_W, height, caption, cy, 341)
    labels = [f"{i}- {n}:" for i, n in zip(ci_index, ci_names)]
    values = [f"{m:.4f} +- {e:.4f} = ({a:.4f} , {b:.4f})"
              for m, e, a, b in zip(means, errs, lo, hi)]
    ys = [first_y + 14.8 * k for k in range(len(labels))]
    t.text(x=[138] * len(labels), y=ys, text=labels, text_font=value(SANS),
           text_font_size="12.6px", text_align="left", text_baseline="middle",
           text_color="black")
    t.text(x=[138 + d for d in VALUE_COL], y=ys, text=values, text_font=value(SANS),
           text_font_size="12.6px", text_align="left", text_baseline="middle",
           text_color="black")
    return t


scale_diff = diff_plot(scale_series, 40, scale_xticks, 368, 34, 53, (287, 7))
trans_diff = diff_plot(trans_series, 70, trans_xticks, 366, 41, 46, (287, 5))
scale_diff_cap = caption_panel(LEFT_W, 50, captions[0], 22, 295)
trans_diff_cap = caption_panel(LEFT_W, 45, captions[2], 25, 295)

scale_ci = ci_plot(scale_means, scale_lo, scale_hi, 0.0, 0.30,
                   scale_ci_yticks, scale_ci_ytick_labels, 299, 11, 18)
trans_ci = ci_plot(trans_means, trans_lo, trans_hi, -0.05, 0.35,
                   trans_ci_yticks, trans_ci_ytick_labels, 301, 17, 18)
scale_notes = notes_panel(177, scale_means, scale_errs, scale_lo, scale_hi, 9.7, captions[1], 149)
trans_notes = notes_panel(162, trans_means, trans_errs, trans_lo, trans_hi, 8.5, captions[3], 142)

layout = row(column(scale_diff, scale_diff_cap, trans_diff, trans_diff_cap),
             column(scale_ci, scale_notes, trans_ci, trans_notes))

open("out.html", "w").write(file_html(layout, INLINE))
